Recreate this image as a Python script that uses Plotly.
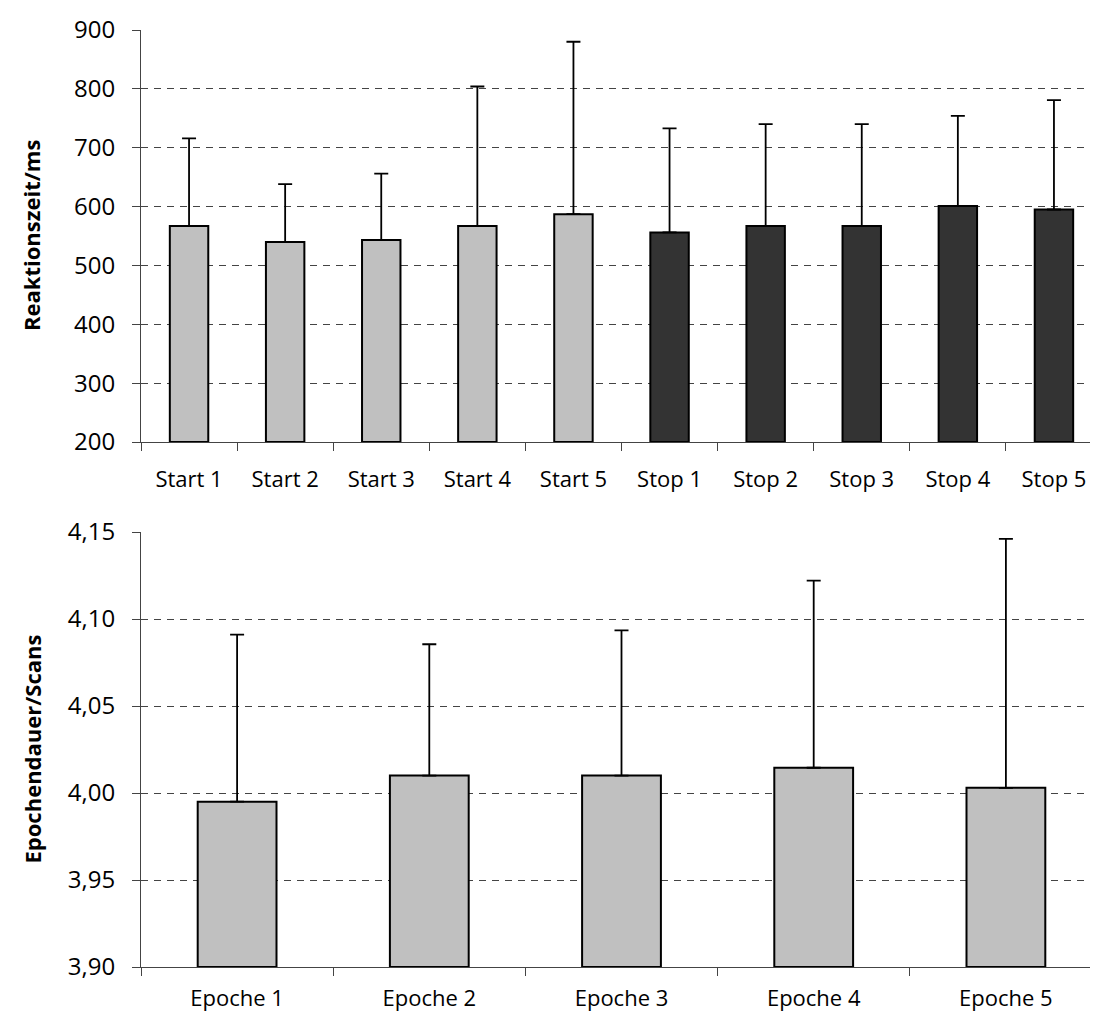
import plotly.graph_objects as go

# ---- data ----
rt_categories = ["Start 1", "Start 2", "Start 3", "Start 4", "Start 5",
                 "Stop 1", "Stop 2", "Stop 3", "Stop 4", "Stop 5"]
rt_means = [567, 540, 543, 567, 587, 556, 567, 567, 601, 595]
rt_upper = [716, 638, 656, 804, 880, 733, 740, 740, 754, 781]
rt_groups = ["start"] * 5 + ["stop"] * 5

ep_categories = ["Epoche 1", "Epoche 2", "Epoche 3", "Epoche 4", "Epoche 5"]
ep_means = [3.995, 4.010, 4.010, 4.0145, 4.003]
ep_upper = [4.091, 4.0855, 4.0935, 4.122, 4.146]

rt_ticks = [200, 300, 400, 500, 600, 700, 800, 900]
ep_ticks = [3.90, 3.95, 4.00, 4.05, 4.10, 4.15]

# ---- styles ----
LIGHT = "#c0c0c0"
DARK = "#333333"
FONT = "Open Sans"
W, H = 1098, 1015
ML, MR, MT, MB = 133, 4, 22, 56

rt_err = [u - m for u, m in zip(rt_upper, rt_means)]
ep_err = [u - m for u, m in zip(ep_upper, ep_means)]
rt_colors = [LIGHT if g == "start" else DARK for g in rt_groups]

fig = go.Figure()
fig.add_trace(go.Bar(
    x=rt_categories, y=[m - 200 for m in rt_means], base=200,
    marker=dict(color=rt_colors, line=dict(color="black", width=2)),
    error_y=dict(type="data", array=rt_err, arrayminus=[0] * len(rt_err),
                 symmetric=False, color="black", thickness=1.8, width=7),
    xaxis="x", yaxis="y", showlegend=False, hoverinfo="skip",
))
fig.add_trace(go.Bar(
    x=ep_categories, y=[m - 3.9 for m in ep_means], base=3.9,
    marker=dict(color=LIGHT, line=dict(color="black", width=2)),
    error_y=dict(type="data", array=ep_err, arrayminus=[0] * len(ep_err),
                 symmetric=False, color="black", thickness=1.8, width=7),
    xaxis="x2", yaxis="y2", showlegend=False, hoverinfo="skip",
))

plot_h = H - MT - MB
top_lo = (H - MB - 434) / plot_h
bot_hi = (H - MB - 524) / plot_h

xcommon = dict(type="category", showline=True, linecolor="#444", linewidth=1,
               ticks="outside", tickson="boundaries", ticklen=8,
               tickcolor="#444", tickwidth=1, showgrid=False,
               tickfont=dict(family=FONT, size=22, color="black"),
               domain=[0, 1])
ycommon = dict(showline=True, linecolor="#444", linewidth=1,
               ticks="outside", ticklen=8, tickcolor="#444", tickwidth=1,
               showgrid=True, gridcolor="#444", gridwidth=1, griddash="7px,6px",
               zeroline=False,
               tickfont=dict(family=FONT, size=24, color="black"),
               ticklabelstandoff=12)

fig.update_layout(
    width=W, height=H,
    margin=dict(l=ML, r=MR, t=MT, b=MB),
    paper_bgcolor="white", plot_bgcolor="white",
    separators=",.",
    bargap=0.6,
    xaxis=dict(**xcommon, anchor="y", ticklabelstandoff=18),
    yaxis=dict(**ycommon, domain=[top_lo, 1], range=[200, 900],
               tickvals=rt_ticks, anchor="x"),
    xaxis2=dict(**xcommon, anchor="y2", ticklabelstandoff=12),
    yaxis2=dict(**ycommon, domain=[0, bot_hi], range=[3.9, 4.15],
                tickvals=ep_ticks, tickformat=".2f", anchor="x2"),
    annotations=[
        dict(text="<b>Reaktionszeit/ms</b>", textangle=-90,
             xref="paper", yref="paper", x=(23 - ML) / (W - ML - MR),
             y=(top_lo + 1) / 2, xanchor="center", yanchor="middle",
             showarrow=False, font=dict(family=FONT, size=22, color="black")),
        dict(text="<b>Epochendauer/Scans</b>", textangle=-90,
             xref="paper", yref="paper", x=(23 - ML) / (W - ML - MR),
             y=bot_hi / 2, xanchor="center", yanchor="middle",
             showarrow=False, font=dict(family=FONT, size=22, color="black")),
    ],
)
fig.update_traces(selector=dict(xaxis="x2"), width=0.41)

fig.write_html("out.html")
